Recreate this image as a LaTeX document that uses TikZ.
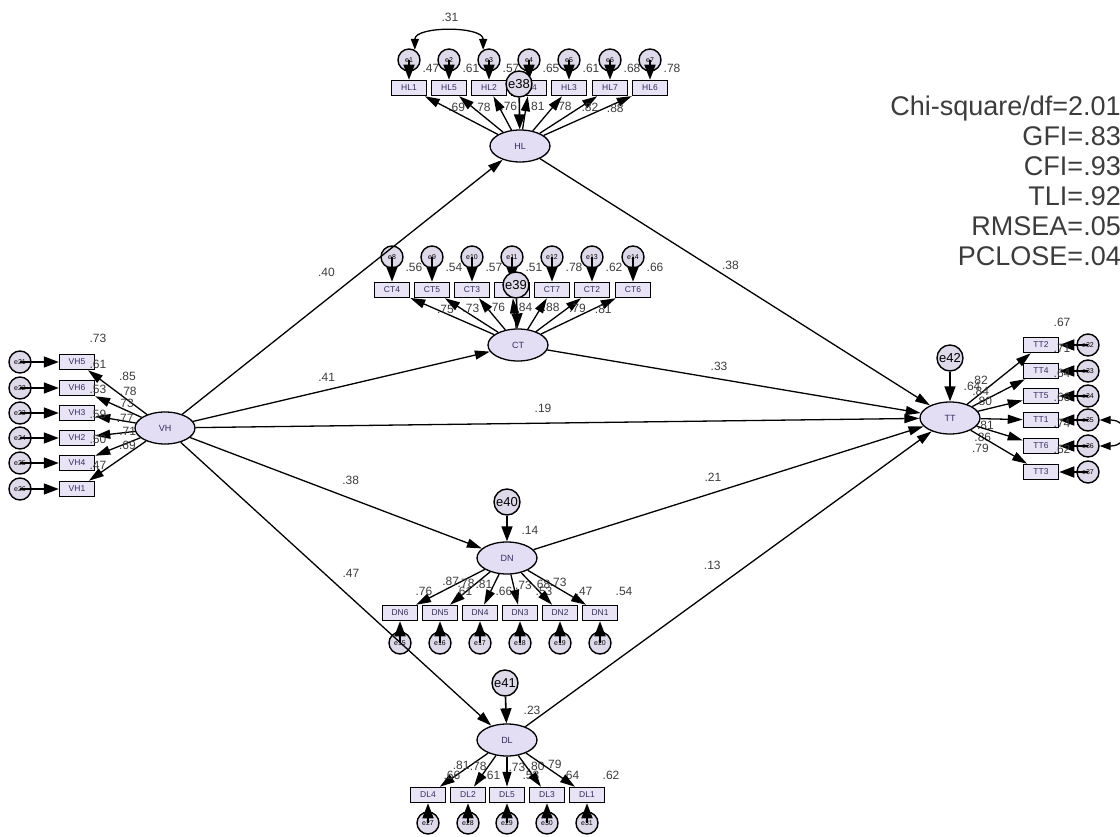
\documentclass[tikz,border=0pt]{standalone}
\usepackage{fontspec}
\setmainfont{Liberation Sans}
\usepackage{tikz}
\usetikzlibrary{arrows.meta,shapes.geometric}

\definecolor{latfill}{RGB}{228,222,244}
\definecolor{obsfill}{RGB}{233,228,245}
\definecolor{errfill}{RGB}{222,218,234}
\definecolor{coefgray}{RGB}{60,60,60}
\definecolor{boxtext}{RGB}{50,45,95}

\tikzset{
	latent/.style={ellipse, draw, line width=1.3pt, fill=latfill, minimum width=60pt, minimum height=32pt, inner sep=0pt, text=boxtext, font=\fontsize{9}{10}\selectfont},
	observed/.style={rectangle, draw, line width=1.5pt, fill=obsfill, minimum width=35pt, minimum height=15pt, inner sep=0pt, text=boxtext, font=\fontsize{8.5}{9}\selectfont},
	errc/.style={circle, draw, line width=1.4pt, fill=errfill, minimum size=22pt, inner sep=0pt, font=\fontsize{7}{8}\selectfont},
	resid/.style={circle, draw, line width=1.4pt, fill=errfill, minimum size=26pt, inner sep=0pt, font=\fontsize{13}{14}\selectfont},
	regarrow/.style={-{Triangle[length=15pt,width=9pt]}, line width=1.3pt},
	errarrow/.style={-{Triangle[length=15pt,width=11pt]}, line width=1.6pt},
	covarrow/.style={{Triangle[length=11pt,width=8pt]}-{Triangle[length=11pt,width=8pt]}, line width=1.3pt},
	coef/.style={text=coefgray, inner sep=1pt, font=\fontsize{12}{12}\selectfont},
	fitstat/.style={text=coefgray, inner sep=0pt, anchor=base east, font=\fontsize{27}{30}\selectfont}
}

\begin{document}
\begin{tikzpicture}[x=1pt,y=-1pt]
\useasboundingbox (0,0) rectangle (1120,837);

% factors
\node[latent] (VH) at (165,428) {VH};
\node[latent] (HL) at (520,146) {HL};
\node[latent] (CT) at (518,345) {CT};
\node[latent] (DN) at (507,558) {DN};
\node[latent] (DL) at (507,740) {DL};
\node[latent] (TT) at (950,418) {TT};

% HL items
\foreach \nm/\x/\er/\rr/\ld in {HL1/409/e1/.47/.69, HL5/449/e2/.61/.78, HL2/489/e3/.57/.76, HL4/529/e4/.65/.81, HL3/569/e5/.61/.78, HL7/610/e6/.68/.82, HL6/650/e7/.78/.88}{
	\node[observed] (\nm) at (\x,88) {\nm};
	\node[errc] (\er) at (\x,60) {\er};
	\draw[errarrow] (\er.center) -- (\nm);
	\draw[regarrow] (HL) -- (\nm) node[coef, pos=.7, anchor=west] {\ld};
	\node[coef] at (\x+22,68) {\rr};
}
\draw[covarrow] (e1.60) .. controls +(0,-24) and +(0,-24) .. (e3.120);
\node[coef] at (450,17) {.31};

% CT items
\foreach \nm/\x/\er/\rr/\ld in {CT4/392/e8/.56/.75, CT5/432/e9/.54/.73, CT3/472/e10/.57/.76, CT1/512/e11/.51/.84, CT7/552/e12/.78/.88, CT2/592/e13/.62/.79, CT6/633/e14/.66/.81}{
	\node[observed] (\nm) at (\x,290) {\nm};
	\node[errc] (\er) at (\x,257) {\er};
	\draw[errarrow] (\er.center) -- (\nm);
	\draw[regarrow] (CT) -- (\nm) node[coef, pos=.7, anchor=west] {\ld};
	\node[coef] at (\x+22,267) {\rr};
}

% DN items
\foreach \nm/\x/\er/\rr/\ld/\sd in {DN6/400/e15/.76/.87/east, DN5/440/e16/.61/.78/east, DN4/480/e17/.66/.81/east, DN3/520/e18/.53/.73/west, DN2/560/e19/.47/.68/west, DN1/600/e20/.54/.73/west}{
	\node[observed] (\nm) at (\x,613) {\nm};
	\node[errc] (\er) at (\x,643) {\er};
	\draw[errarrow] (\er.center) -- (\nm);
	\draw[regarrow] (DN) -- (\nm) node[coef, pos=.35, anchor=\sd] {\ld};
	\node[coef] at (\x+24,591) {\rr};
}

% DL items
\foreach \nm/\x/\er/\rr/\ld/\sd in {DL4/428/e27/.66/.81/east, DL2/468/e28/.61/.78/east, DL5/507/e29/.53/.73/west, DL3/547/e30/.64/.80/west, DL1/587/e31/.62/.79/west}{
	\node[observed] (\nm) at (\x,795) {\nm};
	\node[errc] (\er) at (\x,823) {\er};
	\draw[errarrow] (\er.center) -- (\nm);
	\draw[regarrow] (DL) -- (\nm) node[coef, pos=.35, anchor=\sd] {\ld};
	\node[coef] at (\x+24,775) {\rr};
}

% VH items
\foreach \nm/\y/\er/\rr/\ld in {VH5/362/e21/.73/.85, VH6/388/e22/.61/.78, VH3/413/e23/.53/.73, VH2/438/e24/.59/.77, VH4/463/e25/.50/.71, VH1/489/e26/.47/.69}{
	\node[observed] (\nm) at (77,\y) {\nm};
	\node[errc] (\er) at (20,\y) {\er};
	\draw[errarrow] (\er.center) -- (\nm);
	\draw[regarrow] (VH) -- (\nm) node[coef, pos=.5, anchor=south west, yshift=10pt] {\ld};
	\node[coef] at (98,\y-24) {\rr};
}

% TT items
\foreach \nm/\y/\er/\rr/\ld/\sd in {TT2/345/e32/.67/.82/south east, TT4/371/e33/.71/.84/south east, TT5/396/e34/.64/.80/south east, TT1/420/e35/.66/.81/north east, TT6/446/e36/.74/.86/north east, TT3/472/e37/.62/.79/north east}{
	\node[observed] (\nm) at (1041,\y) {\nm};
	\node[errc] (\er) at (1088,\y) {\er};
	\draw[errarrow] (\er.center) -- (\nm);
	\draw[regarrow] (TT) -- (\nm) node[coef, pos=.35, anchor=\sd] {\ld};
	\node[coef] at (1062,\y-23) {\rr};
}
\draw[covarrow] (e35.east) .. controls +(30,0) and +(30,0) .. (e36.east);

% residuals
\node[resid] (e38) at (519,84) {e38};
\node[resid] (e39) at (516,285) {e39};
\node[resid] (e40) at (507,502) {e40};
\node[resid] (e41) at (505,683) {e41};
\node[resid] (e42) at (950,358) {e42};
\draw[errarrow] (e38) -- (HL);
\draw[errarrow] (e39) -- (CT);
\draw[errarrow] (e40) -- (DN);
\draw[errarrow] (e41) -- (DL);
\draw[errarrow] (e42) -- (TT);
\node[coef] at (530,530) {.14};
\node[coef] at (532,710) {.23};
\node[coef] at (972,386) {.64};

% structural paths
\draw[regarrow] (VH) -- (HL) node[coef, pos=.45, above=21pt] {.40};
\draw[regarrow] (VH) -- (CT) node[coef, pos=.45, above=7pt] {.41};
\draw[regarrow] (VH) -- (TT) node[coef, pos=.48, above=9pt] {.19};
\draw[regarrow] (VH) -- (DN) node[coef, pos=.55, above=12pt] {.38};
\draw[regarrow] (VH) -- (DL) node[coef, pos=.5, above right=5pt] {.47};
\draw[regarrow] (HL) -- (TT) node[coef, pos=.46, above right=1pt] {.38};
\draw[regarrow] (CT) -- (TT) node[coef, pos=.46, above=7pt] {.33};
\draw[regarrow] (DN) -- (TT) node[coef, pos=.46, above=10pt] {.21};
\draw[regarrow] (DL) -- (TT) node[coef, pos=.46, above=20pt] {.13};

% fit indices
\node[fitstat] at (1136,116) {Chi-square/df=2.014};
\node[fitstat] at (1136,146) {GFI=.838};
\node[fitstat] at (1136,176) {CFI=.930};
\node[fitstat] at (1136,206) {TLI=.924};
\node[fitstat] at (1136,236) {RMSEA=.055};
\node[fitstat] at (1136,266) {PCLOSE=.040};

\end{tikzpicture}
\end{document}
